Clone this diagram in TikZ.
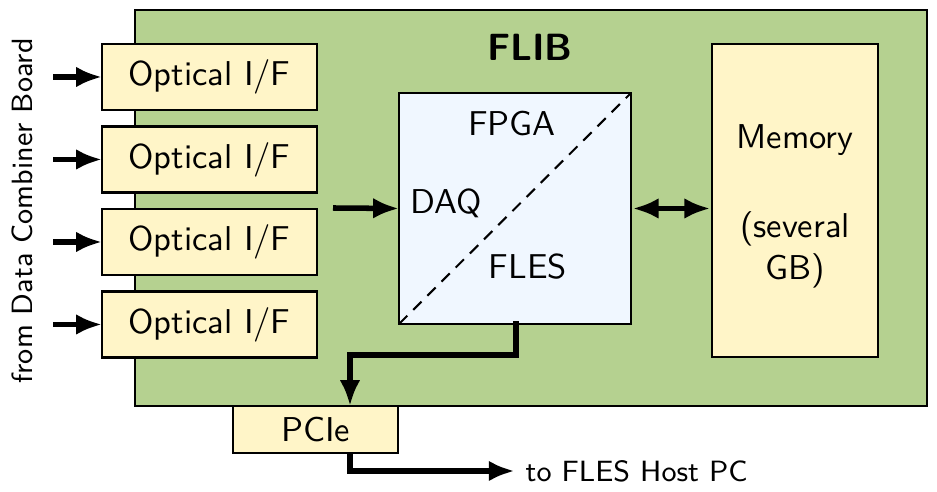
\documentclass[tikz,border=0pt]{standalone}
\usetikzlibrary{arrows.meta,calc}
\definecolor{flibgreen}{RGB}{181,209,144}
\definecolor{boxyellow}{RGB}{255,245,200}
\definecolor{fpgablue}{RGB}{240,247,255}
\tikzset{
  blk/.style={draw=black, line width=0.75pt, inner sep=0pt, outer sep=0pt, font=\sffamily},
  optbox/.style={blk, fill=boxyellow, minimum width=215*0.29pt, minimum height=66*0.29pt},
  conn/.style={line width=1.6pt, -{Latex[length=7.5pt,width=6pt]}},
  dconn/.style={line width=1.6pt, {Latex[length=7.5pt,width=6pt]}-{Latex[length=7.5pt,width=6pt]}},
  lbl/.style={font=\sffamily, inner sep=0pt},
  smalllbl/.style={inner sep=0pt, font=\sffamily\fontsize{8.5}{10}\selectfont}
}
\begin{document}
\begin{tikzpicture}[x=0.29pt,y=-0.29pt]
\useasboundingbox (0,0) rectangle (937,492);
% FLIB board
\node[blk, fill=flibgreen, minimum width=792*0.29pt, minimum height=396*0.29pt] (flib) at (531,208) {};
\node[lbl, font=\sffamily\bfseries\fontsize{11}{13}\selectfont] (flibl) at (530,47) {FLIB};
% optical interfaces
\node[optbox] (opt1) at (209.5,77) {Optical I/F};
\node[optbox] (opt2) at (209.5,159.5) {Optical I/F};
\node[optbox] (opt3) at (209.5,242) {Optical I/F};
\node[optbox] (opt4) at (209.5,324.5) {Optical I/F};
% FPGA
\node[blk, fill=fpgablue, minimum width=232*0.29pt, minimum height=231*0.29pt] (fpga) at (515,208.5) {};
\draw[line width=0.6pt, dash pattern=on 3.4pt off 2.4pt] (fpga.south west) -- (fpga.north east);
\node[lbl] (fpgal) at (512,124) {FPGA};
\node[lbl, anchor=west] (daq) at (410,203) {DAQ};
\node[lbl] (fles) at (528,267) {FLES};
% Memory
\node[blk, fill=boxyellow, minimum width=166*0.29pt, minimum height=313*0.29pt] (mem) at (795,200.5) {};
\node[lbl, align=center] (memtext) at ([yshift=-1.6pt]mem.center) {Memory\\[14pt](several\\GB)};
% PCIe
\node[blk, fill=boxyellow, minimum width=165*0.29pt, minimum height=47*0.29pt] (pcie) at (315.5,429.5) {PCIe};
% side label
\node[smalllbl, rotate=90] (from) at (22,211) {from Data Combiner Board};
% input arrows
\foreach \i in {1,...,4}{
  \coordinate (in\i) at ($(opt\i.west)+(-49,0)$);
  \draw[conn] (in\i) -- (opt\i.west);
}
\coordinate (fin) at (333,208);
\draw[conn] (fin) -- (fpga.west);
\draw[dconn, shorten <=0.5pt, shorten >=0.5pt] (fpga.east) -- (fpga.east -| mem.west);
% FPGA to PCIe
\coordinate (pin) at (350,406);
\draw[conn, line cap=rect] ([xshift=0.3pt]fpga.south) |- (430,355) -| (pin);
% PCIe out
\coordinate (pout) at (350,453);
\node[smalllbl, anchor=west] (host) at (525,471) {to FLES Host PC};
\draw[conn] (pout) |- ([xshift=-3pt]host.west);
\end{tikzpicture}
\end{document}
